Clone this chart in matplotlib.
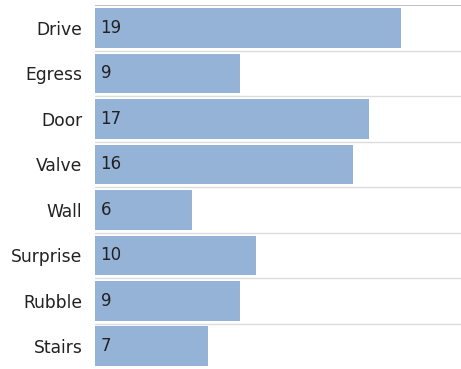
import matplotlib.pyplot as plt
import numpy as np

# Counts per task category
categories = ["Drive", "Egress", "Door", "Valve", "Wall", "Surprise", "Rubble", "Stairs"]
counts = [19, 9, 17, 16, 6, 10, 9, 7]

fig = plt.figure(figsize=(4.61, 3.69), dpi=100)
ax = fig.add_axes([0.206, 0.0, 0.794, 0.986])

y = np.arange(len(categories))
ax.barh(y, counts, height=0.87, color="#95b3d7", edgecolor="none", zorder=2)

# value labels at the base of each bar
for yi, c in zip(y, counts):
    ax.text(0.35, yi, str(c), ha="left", va="center", fontsize=12, color="#222222", zorder=3)

# row separators
for b in y[:-1] + 0.5:
    ax.axhline(b, color="#dcdcdc", lw=1.0, zorder=1)
ax.axhline(-0.5, color="#b4b4b4", lw=1.2, zorder=1)

ax.set_yticks(y)
ax.set_yticklabels(categories, fontsize=12.3, color="#222222")
ax.tick_params(axis="y", length=0, pad=9)
ax.set_xticks([])
ax.set_xlim(0, 22.7)
ax.set_ylim(len(categories) - 0.5, -0.5)
for s in ax.spines.values():
    s.set_visible(False)

fig.savefig("out.png", dpi=100)
